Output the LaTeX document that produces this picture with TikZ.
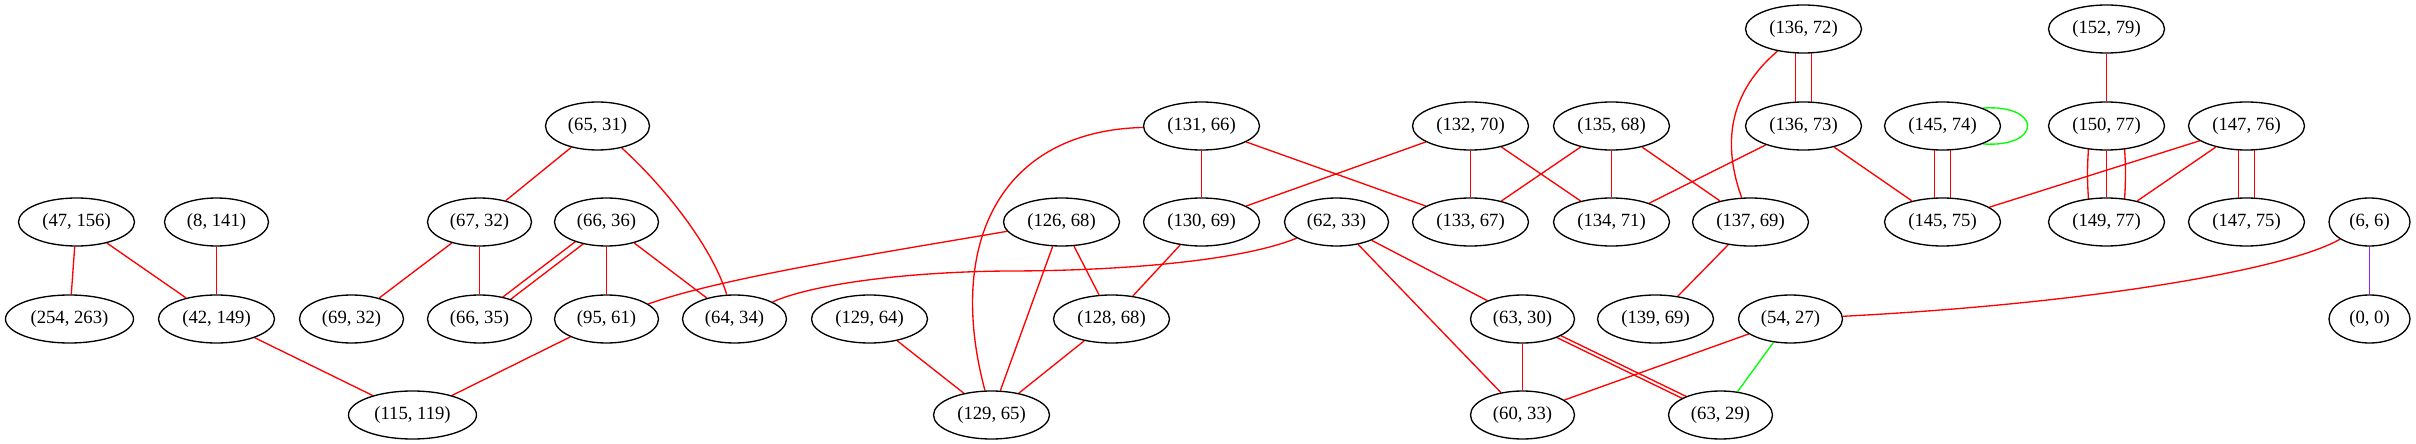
\documentclass[tikz,border=0pt]{standalone}
\usepackage{fontspec}
\setmainfont{Liberation Serif}
\usetikzlibrary{shapes.geometric,calc}
\pgfdeclarelayer{background}
\pgfsetlayers{background,main}
\definecolor{edgered}{RGB}{255,0,0}
\definecolor{edgegreen}{RGB}{0,255,0}
\definecolor{edgepurple}{RGB}{160,32,240}
\begin{document}
\begin{tikzpicture}[x=0.75pt,y=0.75pt,
  vtx/.style={ellipse,draw=black,fill=white,line width=1pt,inner sep=0pt,
    minimum height=36pt,font=\fontsize{14}{16}\selectfont},
  wa/.style={vtx,minimum width=60.75pt},
  wb/.style={vtx,minimum width=78pt},
  wc/.style={vtx,minimum width=87pt},
  wd/.style={vtx,minimum width=96pt},
  redge/.style={draw=edgered,line width=1pt},
  gedge/.style={draw=edgegreen,line width=1pt},
  pedge/.style={draw=edgepurple,line width=1pt}]
\useasboundingbox (0,0) rectangle (2416,443);
\begin{scope}[shift={(0.5,0)}]
% row 0
\node[wc] (n136_72) at (1803,414) {(136, 72)};
\node[wc] (n152_79) at (2106,414) {(152, 79)};
% row 1
\node[wb] (n65_31) at (597,317) {(65, 31)};
\node[wc] (n131_66) at (1201,317) {(131, 66)};
\node[wc] (n132_70) at (1470,317) {(132, 70)};
\node[wc] (n135_68) at (1611,317) {(135, 68)};
\node[wc] (n136_73) at (1803,317) {(136, 73)};
\node[wc] (n145_74) at (1942,317) {(145, 74)};
\node[wc] (n150_77) at (2106,317) {(150, 77)};
\node[wc] (n147_76) at (2246,317) {(147, 76)};
% row 2
\node[wc] (n47_156) at (76,221) {(47, 156)};
\node[wb] (n8_141) at (216,221) {(8, 141)};
\node[wb] (n67_32) at (479,221) {(67, 32)};
\node[wb] (n66_36) at (606,221) {(66, 36)};
\node[wc] (n126_68) at (1061,221) {(126, 68)};
\node[wc] (n130_69) at (1201,221) {(130, 69)};
\node[wb] (n62_33) at (1336,221) {(62, 33)};
\node[wc] (n133_67) at (1470,221) {(133, 67)};
\node[wc] (n134_71) at (1611,221) {(134, 71)};
\node[wc] (n137_69) at (1750,221) {(137, 69)};
\node[wc] (n145_75) at (1942,221) {(145, 75)};
\node[wc] (n149_77) at (2106,221) {(149, 77)};
\node[wc] (n147_75) at (2246,221) {(147, 75)};
\node[wa] (n6_6) at (2369,221) {(6, 6)};
% row 3
\node[wd] (n254_263) at (69,124) {(254, 263)};
\node[wc] (n42_149) at (216,124) {(42, 149)};
\node[wb] (n69_32) at (351,124) {(69, 32)};
\node[wb] (n66_35) at (479,124) {(66, 35)};
\node[wb] (n95_61) at (606,124) {(95, 61)};
\node[wb] (n64_34) at (734,124) {(64, 34)};
\node[wc] (n129_64) at (869,124) {(129, 64)};
\node[wc] (n128_68) at (1111,124) {(128, 68)};
\node[wb] (n63_30) at (1522,124) {(63, 30)};
\node[wc] (n139_69) at (1655,124) {(139, 69)};
\node[wb] (n54_27) at (1790,124) {(54, 27)};
\node[wa] (n0_0) at (2369,124) {(0, 0)};
% row 4
\node[wd] (n115_119) at (412,28) {(115, 119)};
\node[wc] (n129_65) at (991,28) {(129, 65)};
\node[wb] (n60_33) at (1522,28) {(60, 33)};
\node[wb] (n63_29) at (1720,28) {(63, 29)};

\begin{pgfonlayer}{background}
% single straight edges
\draw[redge] (n47_156) -- (n254_263);
\draw[redge] (n47_156) -- (n42_149);
\draw[redge] (n8_141) -- (n42_149);
\draw[redge] (n42_149) -- (n115_119);
\draw[redge] (n95_61) -- (n115_119);
\draw[redge] (n65_31) -- (n67_32);
\draw[redge] (n67_32) -- (n69_32);
\draw[redge] (n67_32) -- (n66_35);
\draw[redge] (n66_36) -- (n95_61);
\draw[redge] (n66_36) -- (n64_34);
\draw[redge] (n126_68) -- (n129_65);
\draw[redge] (n126_68) -- (n128_68);
\draw[redge] (n131_66) -- (n130_69);
\draw[redge] (n131_66) -- (n133_67);
\draw[redge] (n132_70) -- (n130_69);
\draw[redge] (n132_70) -- (n133_67);
\draw[redge] (n132_70) -- (n134_71);
\draw[redge] (n130_69) -- (n128_68);
\draw[redge] (n129_64) -- (n129_65);
\draw[redge] (n128_68) -- (n129_65);
\draw[redge] (n62_33) -- (n63_30);
\draw[redge] (n62_33) -- (n60_33);
\draw[redge] (n135_68) -- (n133_67);
\draw[redge] (n135_68) -- (n134_71);
\draw[redge] (n135_68) -- (n137_69);
\draw[redge] (n136_73) -- (n134_71);
\draw[redge] (n136_73) -- (n145_75);
\draw[redge] (n152_79) -- (n150_77);
\draw[redge] (n147_76) -- (n145_75);
\draw[redge] (n147_76) -- (n149_77);
\draw[redge] (n137_69) -- (n139_69);
\draw[redge] (n54_27) -- (n60_33);
\draw[redge] (n63_30) -- (n60_33);
\draw[gedge] (n54_27) -- (n63_29);
\draw[pedge] (n6_6) -- (n0_0);
% curved edges
\draw[redge] (n65_31) .. controls (660,260) and (710,200) .. (n64_34);
\draw[redge] (n126_68) .. controls (880,190) and (720,165) .. (n95_61);
\draw[redge] (n62_33) .. controls (1240,182) and (1120,172) .. (1006,172)
  .. controls (900,171) and (810,158) .. (n64_34);
\draw[redge] (n131_66) .. controls (1000,312) and (945,200) .. (n129_65);
\draw[redge] (n136_72) .. controls (1722,345) and (1725,290) .. (n137_69);
\draw[redge] (n6_6) .. controls (2290,175) and (2100,140) .. (n54_27);
% self loop
\draw[gedge] (n145_74.24) .. controls ($(n145_74)+(100,22)$) and ($(n145_74)+(100,-22)$) .. (n145_74.-24);
% multi-edges
\draw[redge] ($(n66_36)+(2,-2.6)$) -- ($(n66_35)+(2,-2.6)$);
\draw[redge] ($(n66_36)+(-2,2.6)$) -- ($(n66_35)+(-2,2.6)$);
\draw[redge] ($(n63_30)+(0.75,1.55)$) -- ($(n63_29)+(0.75,1.55)$);
\draw[redge] ($(n63_30)+(-0.75,-1.55)$) -- ($(n63_29)+(-0.75,-1.55)$);
\draw[redge] ($(n136_72)+(-8,0)$) -- ($(n136_73)+(-8,0)$);
\draw[redge] ($(n136_72)+(8,0)$) -- ($(n136_73)+(8,0)$);
\draw[redge] ($(n145_74)+(-8,0)$) -- ($(n145_75)+(-8,0)$);
\draw[redge] ($(n145_74)+(8,0)$) -- ($(n145_75)+(8,0)$);
\draw[redge] ($(n147_76)+(-8,0)$) -- ($(n147_75)+(-8,0)$);
\draw[redge] ($(n147_76)+(8,0)$) -- ($(n147_75)+(8,0)$);
\draw[redge] (n150_77) -- (n149_77);
\draw[redge] ($(n150_77)+(-16,0)$) .. controls ($(n150_77)+(-20,-40)$) and ($(n149_77)+(-20,40)$) .. ($(n149_77)+(-16,0)$);
\draw[redge] ($(n150_77)+(16,0)$) .. controls ($(n150_77)+(20,-40)$) and ($(n149_77)+(20,40)$) .. ($(n149_77)+(16,0)$);
\end{pgfonlayer}
\end{scope}
\end{tikzpicture}
\end{document}
